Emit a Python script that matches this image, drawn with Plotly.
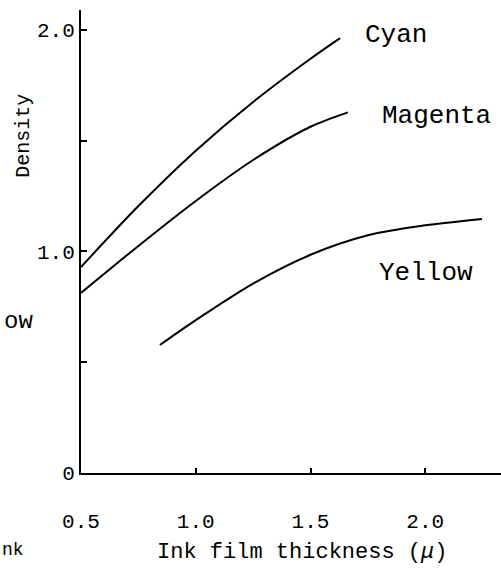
import plotly.graph_objects as go

# Data
cyan_x = [0.50, 0.75, 1.00, 1.25, 1.50, 1.629]
cyan_y = [0.93, 1.205, 1.455, 1.675, 1.870, 1.963]

magenta_x = [0.50, 0.75, 1.00, 1.25, 1.50, 1.663]
magenta_y = [0.813, 1.025, 1.228, 1.413, 1.563, 1.628]

yellow_x = [0.844, 1.00, 1.25, 1.50, 1.75, 2.00, 2.247]
yellow_y = [0.578, 0.690, 0.855, 0.985, 1.073, 1.118, 1.147]

x_tickvals = [0.5, 1.0, 1.5, 2.0]
x_ticktext = ["0.5", "1.0", "1.5", "2.0"]
y_tickvals = [0, 0.5, 1.0, 1.5, 2.0]
y_ticktext = ["0", "", "1.0", "", "2.0"]

FONT = "Liberation Mono"

fig = go.Figure()
for xs, ys in [(cyan_x, cyan_y), (magenta_x, magenta_y), (yellow_x, yellow_y)]:
    fig.add_trace(go.Scatter(x=xs, y=ys, mode="lines",
                             line=dict(color="black", width=2, shape="spline", smoothing=0.8),
                             showlegend=False, hoverinfo="skip"))

labels = [("Cyan", 1.873, 1.977), ("Magenta", 2.047, 1.612), ("Yellow", 2.003, 0.903)]
for txt, lx, ly in labels:
    fig.add_annotation(x=lx, y=ly, text=txt, showarrow=False,
                       xanchor="center", yanchor="middle",
                       font=dict(family=FONT, size=26, color="black"))

fig.add_annotation(xref="paper", yref="paper", x=-0.136, y=0.728, text="Density",
                   textangle=-90, showarrow=False, xanchor="center", yanchor="middle",
                   font=dict(family=FONT, size=20, color="black"))
fig.add_annotation(xref="paper", yref="paper", x=-0.15, y=0.328, text="ow",
                   showarrow=False, xanchor="center", yanchor="middle",
                   font=dict(family=FONT, size=24, color="black"))
fig.add_annotation(xref="paper", yref="paper", x=-0.193, y=-0.166, xanchor="left",
                   yanchor="middle", text="nk", showarrow=False,
                   font=dict(family=FONT, size=18, color="black"))
fig.add_annotation(xref="paper", yref="paper", x=0.526, y=-0.171,
                   xanchor="center", yanchor="middle",
                   text="Ink film thickness (<i>μ</i>)", showarrow=False,
                   font=dict(family=FONT, size=22, color="black"))

fig.update_layout(
    width=501, height=572,
    margin=dict(l=81, r=0, t=10, b=99),
    paper_bgcolor="white", plot_bgcolor="white",
    font=dict(family=FONT, color="black"),
    xaxis=dict(range=[0.5, 2.33], showgrid=False, zeroline=False,
               showline=True, linecolor="black", linewidth=2,
               ticks="inside", ticklen=5, tickwidth=1.5, tickcolor="black",
               tickvals=x_tickvals, ticktext=x_ticktext,
               tickfont=dict(family=FONT, size=21),
               ticklabelstandoff=28),
    yaxis=dict(range=[0, 2.09], showgrid=False, zeroline=False,
               showline=True, linecolor="black", linewidth=2,
               ticks="inside", ticklen=6, tickwidth=1.5, tickcolor="black",
               tickvals=y_tickvals, ticktext=y_ticktext,
               tickfont=dict(family=FONT, size=21)),
)

fig.write_html("out.html")
